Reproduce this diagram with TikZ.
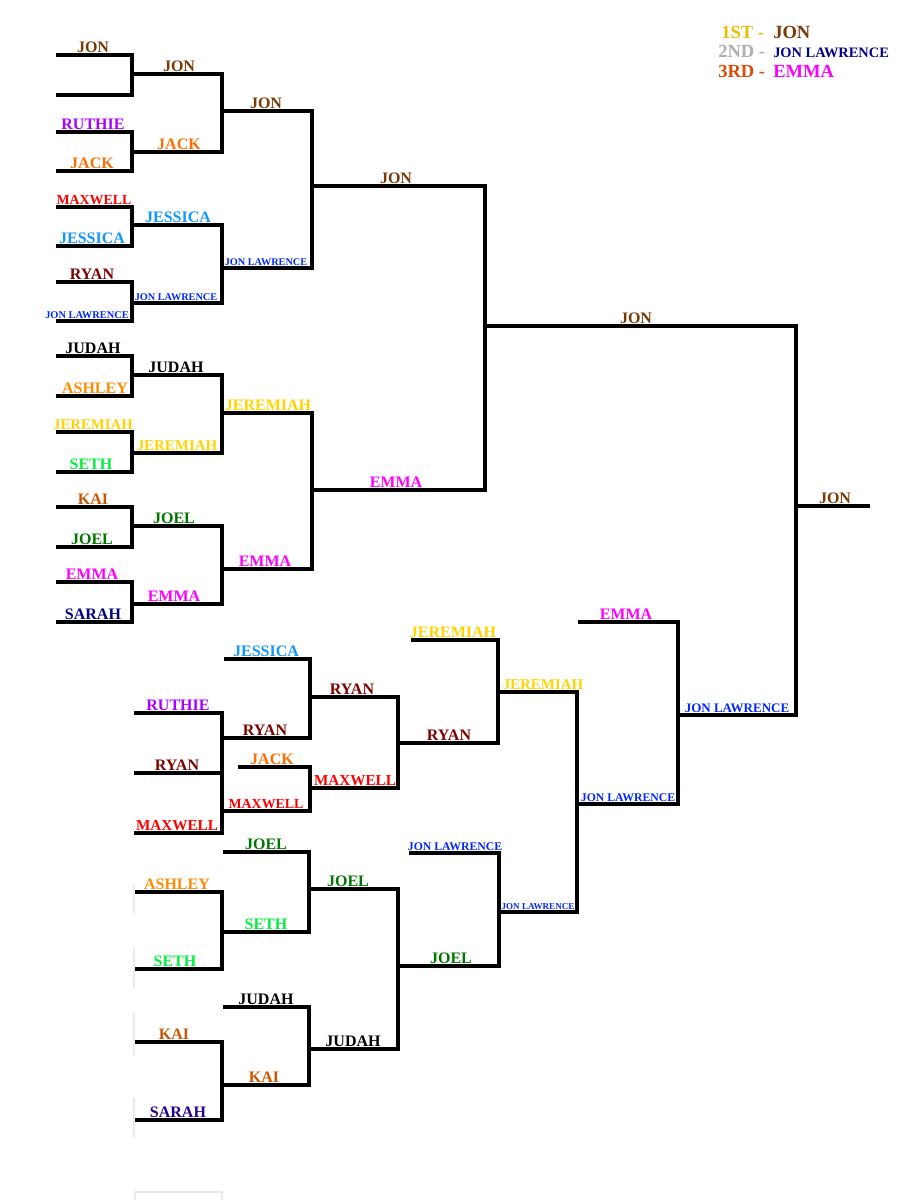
\documentclass[tikz,border=0pt]{standalone}
\usepackage{fontspec}
\setmainfont{Liberation Serif}
\definecolor{cJon}{RGB}{122,56,4}
\definecolor{cRuthie}{RGB}{170,0,255}
\definecolor{cJack}{RGB}{255,110,0}
\definecolor{cMax}{RGB}{255,0,0}
\definecolor{cJess}{RGB}{20,150,255}
\definecolor{cRyan}{RGB}{128,0,0}
\definecolor{cJL}{RGB}{0,40,255}
\definecolor{cJudah}{RGB}{0,0,0}
\definecolor{cAsh}{RGB}{255,140,0}
\definecolor{cJer}{RGB}{255,212,0}
\definecolor{cSeth}{RGB}{0,240,60}
\definecolor{cKai}{RGB}{204,85,0}
\definecolor{cJoel}{RGB}{0,120,0}
\definecolor{cEmma}{RGB}{255,0,255}
\definecolor{cSarah}{RGB}{0,0,128}
\definecolor{cSarahB}{RGB}{40,0,140}
\definecolor{cFirst}{RGB}{235,190,0}
\definecolor{cSecond}{RGB}{175,175,175}
\definecolor{cThird}{RGB}{210,80,10}
\definecolor{cNavy}{RGB}{0,0,140}
\newcommand\lab[6]{\node[nm,text=#4,font=\bfseries\fontsize{#5}{#5}\selectfont] (#1) at (#2,#3-3) {#6};}
\begin{document}
\begin{tikzpicture}[x=0.75pt,y=-0.75pt,
  nm/.style={anchor=base,inner sep=0pt},
  ln/.style={line width=2.6pt,line join=miter},
  faint/.style={draw=black!8,line width=0.8pt}]
\useasboundingbox[fill=white] (0,0) rectangle (900,1200);
% ---------- top half: round 1 ----------
\foreach \a/\b in {55/95,132/171,207/246,282/321,356/396,432/472,507/547,582/622}
  \draw[ln] (56,\a) -| (132,\b) -- (56,\b);
% round 2
\foreach \a/\b in {74/152,225/303,375/453,526/604}
  \draw[ln] (132,\a) -| (222,\b) -- (132,\b);
% round 3
\foreach \a/\b in {111/268,413/569}
  \draw[ln] (222,\a) -| (312,\b) -- (222,\b);
% round 4
\draw[ln] (312,186) -| (485,490) -- (312,490);
% round 5 + final bracket
\draw[ln] (485,326) -| (796,715) -- (678,715);
\draw[ln] (796,506) -- (870,506);
% ---------- lower bracket ----------
\draw[ln] (224,659) -| (310,738) -- (222,738);
\draw[ln] (134,713) -| (222,833) -- (134,833);
\draw[ln] (134,773) -- (222,773);
\draw[ln] (238,767) -| (310,811) -- (222,811);
\draw[ln] (310,697) -| (398,788) -- (310,788);
\draw[ln] (411,640) -| (498,743) -- (398,743);
\draw[ln] (498,692) -| (577,912) -- (498,912);
\draw[ln] (578,622) -| (678,804) -- (577,804);
\draw[ln] (223,852) -| (309,932) -- (222,932);
\draw[ln] (134,892) -| (222,969) -- (134,969);
\draw[ln] (309,889) -| (398,1049) -- (309,1049);
\draw[ln] (223,1007) -| (309,1085) -- (222,1085);
\draw[ln] (134,1042) -| (222,1120) -- (134,1120);
\draw[ln] (409,853) -| (499,966) -- (398,966);
% faint artefacts
\draw[faint] (134,885) -- (134,913);
\draw[faint] (134,947) -- (134,988);
\draw[faint] (134,1013) -- (134,1055);
\draw[faint] (134,1098) -- (134,1138);
\draw[faint] (135,1203) -- (135,1192) -- (222,1192) -- (222,1203);
% ---------- labels: round 1 ----------
\lab{a1}{93}{55}{cJon}{12}{JON}
\lab{a3}{93}{132}{cRuthie}{12}{RUTHIE}
\lab{a4}{92}{171}{cJack}{12}{JACK}
\lab{a5}{94}{207}{cMax}{10.4}{MAXWELL}
\lab{a6}{92}{246}{cJess}{12}{JESSICA}
\lab{a7}{92}{282}{cRyan}{12}{RYAN}
\lab{a8}{87}{321}{cJL}{7.8}{JON LAWRENCE}
\lab{a9}{93}{356}{cJudah}{12}{JUDAH}
\lab{a10}{95}{396}{cAsh}{12}{ASHLEY}
\lab{a11}{93}{432}{cJer}{11.1}{JEREMIAH}
\lab{a12}{91}{472}{cSeth}{12}{SETH}
\lab{a13}{93}{507}{cKai}{12}{KAI}
\lab{a14}{92}{547}{cJoel}{12}{JOEL}
\lab{a15}{92}{582}{cEmma}{12}{EMMA}
\lab{a16}{93}{622}{cSarah}{12}{SARAH}
% round 2
\lab{b1}{179}{74}{cJon}{12}{JON}
\lab{b2}{179}{152}{cJack}{12}{JACK}
\lab{b3}{178}{225}{cJess}{12}{JESSICA}
\lab{b4}{176}{303}{cJL}{7.7}{JON LAWRENCE}
\lab{b5}{176}{375}{cJudah}{12}{JUDAH}
\lab{b6}{177}{453}{cJer}{11.2}{JEREMIAH}
\lab{b7}{174}{526}{cJoel}{12}{JOEL}
\lab{b8}{174}{604}{cEmma}{12}{EMMA}
% round 3
\lab{c1}{266}{111}{cJon}{12}{JON}
\lab{c2}{266}{268}{cJL}{7.7}{JON LAWRENCE}
\lab{c3}{268}{413}{cJer}{12}{JEREMIAH}
\lab{c4}{265}{569}{cEmma}{12}{EMMA}
% round 4, 5, final
\lab{d1}{396}{186}{cJon}{12}{JON}
\lab{d2}{396}{490}{cEmma}{12}{EMMA}
\lab{e1}{636}{326}{cJon}{12}{JON}
\lab{f1}{835}{506}{cJon}{12}{JON}
% ---------- lower labels ----------
\lab{g1}{266}{659}{cJess}{12}{JESSICA}
\lab{g2}{178}{713}{cRuthie}{12}{RUTHIE}
\lab{g3}{265}{738}{cRyan}{12}{RYAN}
\lab{g4}{177}{773}{cRyan}{12}{RYAN}
\lab{g5}{272}{767}{cJack}{12}{JACK}
\lab{g6}{266}{811}{cMax}{10.4}{MAXWELL}
\lab{g7}{177}{833}{cMax}{11.4}{MAXWELL}
\lab{g8}{352}{697}{cRyan}{12}{RYAN}
\lab{g9}{355}{788}{cMax}{11.4}{MAXWELL}
\lab{g10}{453}{640}{cJer}{12}{JEREMIAH}
\lab{g11}{449}{743}{cRyan}{12}{RYAN}
\lab{g12}{543}{692}{cJer}{11.2}{JEREMIAH}
\lab{g13}{626}{622}{cEmma}{12}{EMMA}
\lab{g14}{737}{715}{cJL}{9.75}{JON LAWRENCE}
\lab{g15}{628}{804}{cJL}{8.8}{JON LAWRENCE}
\lab{h1}{266}{852}{cJoel}{12}{JOEL}
\lab{h2}{177}{892}{cAsh}{12}{ASHLEY}
\lab{h3}{348}{889}{cJoel}{12}{JOEL}
\lab{h4}{266}{932}{cSeth}{12}{SETH}
\lab{h5}{175}{969}{cSeth}{12}{SETH}
\lab{h6}{455}{853}{cJL}{8.8}{JON LAWRENCE}
\lab{h7}{451}{966}{cJoel}{12}{JOEL}
\lab{h8}{538}{912}{cJL}{6.8}{JON LAWRENCE}
\lab{h9}{266}{1007}{cJudah}{12}{JUDAH}
\lab{h10}{174}{1042}{cKai}{12}{KAI}
\lab{h11}{353}{1049}{cJudah}{12}{JUDAH}
\lab{h12}{264}{1085}{cKai}{12}{KAI}
\lab{h13}{178}{1120}{cSarahB}{12}{SARAH}
% ---------- legend ----------
\node[nm,anchor=base west,text=cFirst,font=\bfseries\fontsize{13.9}{14}\selectfont] (l1) at (721,38) {1ST -};
\node[nm,anchor=base west,text=cJon,font=\bfseries\fontsize{13.9}{14}\selectfont] (l1n) at (773,38) {JON};
\node[nm,anchor=base west,text=cSecond,font=\bfseries\fontsize{13.9}{14}\selectfont] (l2) at (718,57.5) {2ND -};
\node[nm,anchor=base west,text=cNavy,font=\bfseries\fontsize{10.8}{11}\selectfont] (l2n) at (773,57.5) {JON LAWRENCE};
\node[nm,anchor=base west,text=cThird,font=\bfseries\fontsize{13.9}{14}\selectfont] (l3) at (718,77.5) {3RD -};
\node[nm,anchor=base west,text=cEmma,font=\bfseries\fontsize{13.9}{14}\selectfont] (l3n) at (773,77.5) {EMMA};
\end{tikzpicture}
\end{document}
